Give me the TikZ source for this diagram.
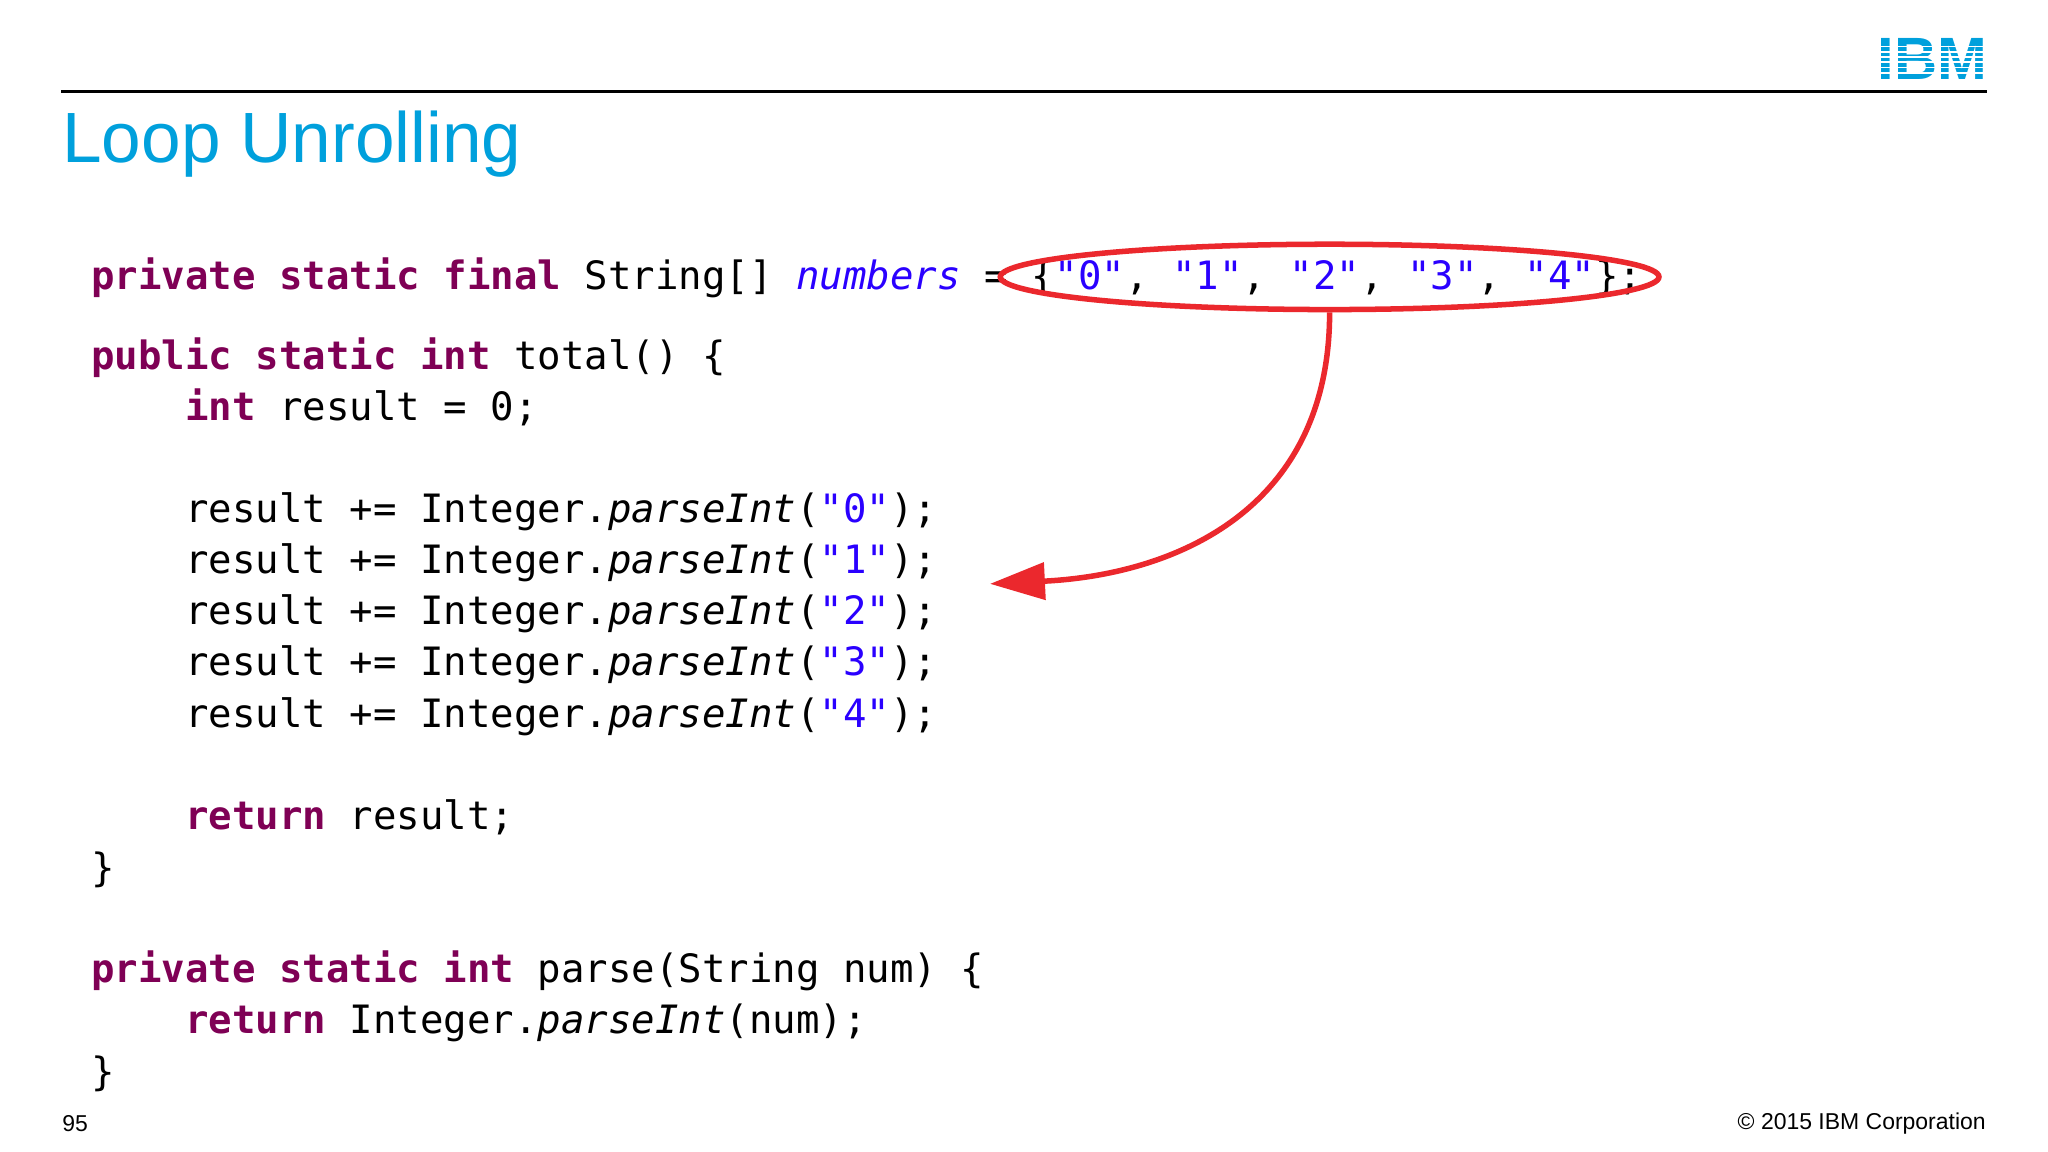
\documentclass[tikz,border=0pt]{standalone}
\usepackage{fontspec}
\setmainfont{Liberation Sans}
\setmonofont{DejaVu Sans Mono}
\usetikzlibrary{shapes.geometric,arrows.meta}
\definecolor{ibmblue}{RGB}{0,160,220}
\definecolor{kwpurple}{RGB}{127,0,85}
\definecolor{strblue}{RGB}{42,0,255}
\definecolor{markred}{RGB}{235,40,45}
\newcommand{\kw}[1]{\textbf{\color{kwpurple}#1}}
\newcommand{\st}[1]{{\color{strblue}#1}}
\tikzset{
  codeline/.style={anchor=base west, inner sep=0pt, font=\ttfamily\fontsize{8.5}{10}\selectfont},
  foot/.style={inner sep=0pt, font=\fontsize{5}{6}\selectfont}
}
\begin{document}
\begin{tikzpicture}[x=0.01cm,y=-0.01cm]
    \useasboundingbox[fill=white] (0,0) rectangle (1568,882);
    % Header
    \draw[line width=0.6pt] (47,70) -- (1521,70);
    \node[anchor=west, inner sep=0pt, text=ibmblue, font=\fontsize{15.5}{18}\selectfont] (title) at (47,110) {Loop Unrolling};
    \node[anchor=east, inner sep=0pt, text=ibmblue, font=\bfseries\fontsize{13}{14}\selectfont] (logo) at (1522,45) {IBM};
    \foreach \y in {35,39,43,47,51,55} {
        \fill[white] (1415,\y) rectangle (1525,\y+1.3);
    }
    
    % Code
    \node[codeline] (l1) at (69,222) {\kw{private static final} String[] \textit{\st{numbers}} = \{\st{"0"}, \st{"1"}, \st{"2"}, \st{"3"}, \st{"4"}\};};
    \node[codeline] (l2) at (69,283) {\kw{public static int} total() \{};
    \node[codeline] (l3) at (141,322) {\kw{int} result = 0;};
    \foreach \n/\y in {0/400,1/439,2/478,3/517,4/557} {
        \node[codeline] (r\n) at (141,\y) {result += Integer.\textit{parseInt}(\st{"\n"});};
    }
    \node[codeline] (l4) at (141,635) {\kw{return} result;};
    \node[codeline] (l5) at (69,675) {\}};
    \node[codeline] (l6) at (69,752) {\kw{private static int} parse(String num) \{};
    \node[codeline] (l7) at (141,791) {\kw{return} Integer.\textit{parseInt}(num);};
    \node[codeline] (l8) at (69,831) {\}};
    
    % Highlight
    \node[draw=markred, line width=1.2pt, ellipse, inner sep=0pt, minimum width=5.04cm, minimum height=0.5cm] (vals) at (1018,212) {};
    \coordinate (tip) at (758,447);
    \draw[markred, line width=1.2pt, -{Triangle[length=0.42cm,width=0.28cm]}] (vals.south) .. controls (1018,390) and (900,440) .. (tip);
    
    % Footer
    \node[foot, anchor=west] (page) at (47,860) {95};
    \node[foot, anchor=east] (copy) at (1521,860) {© 2015 IBM Corporation};
\end{tikzpicture}
\end{document}
